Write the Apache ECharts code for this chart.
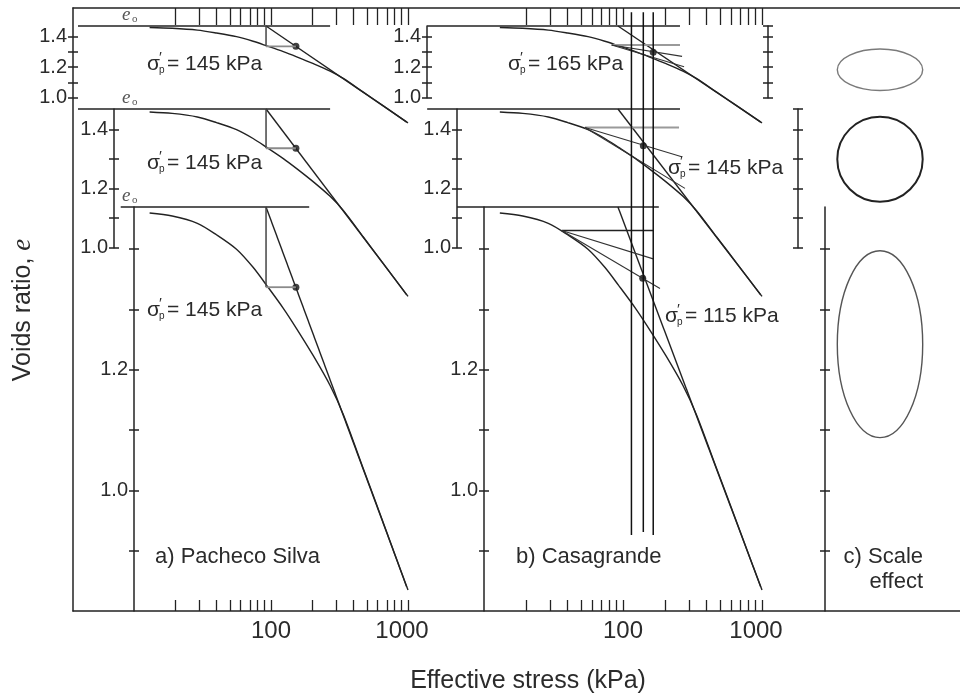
<!DOCTYPE html>
<html><head><meta charset="utf-8">
<script src="https://cdn.jsdelivr.net/npm/echarts@6/dist/echarts.min.js"></script>
<style>html,body{margin:0;padding:0;background:#fff}#c{width:960px;height:697px}</style>
</head><body><div id="c"></div>
<script>
// ---------------- data ----------------
// compression curve (same test drawn at three vertical scales)
const stressKPa  = [13, 19, 29, 40, 56, 74, 93, 123, 154, 204, 270, 337, 472, 661, 978];
const voidsRatio = [1.460, 1.455, 1.443, 1.424, 1.400, 1.370, 1.340, 1.302, 1.268, 1.223, 1.174, 1.126, 1.036, 0.946, 0.840];
const initialE = 1.47;

// axis ticks / labels
const stressTickValues = [20, 30, 40, 50, 60, 70, 80, 90, 100, 200, 300, 400, 500, 600, 700, 800, 900, 1000];
const stressTickLabels = [100, 1000];
const eTicksSmall  = [1.0, 1.1, 1.2, 1.3, 1.4];
const eLabelsSmall = [1.0, 1.2, 1.4];
const eTicksLarge  = [0.9, 1.0, 1.1, 1.2, 1.3, 1.4];
const eLabelsLarge = [1.0, 1.2];
const scaleBarTicks = [1.0, 1.1, 1.2, 1.3, 1.4, 1.47];

// a) Pacheco Silva construction
const psLineStress = [92, 1000];
const psLineE      = [1.47, 0.835];
const psCurveE     = 1.337;
const psSigmaP     = 152;
const psLabels     = [145, 145, 145];
const psE0From     = [3.9, 3.9, 8.0];
const psE0To       = [270, 270, 190];

// b) Casagrande construction (one per vertical scale)
const csE0From    = [3.9, 3.9, 6.4];
const csE0To      = [257, 257, 181];
const csTStress   = [82.9, 53.3, 36.2];
const csTE        = [1.345, 1.407, 1.431];
const csHorizTo   = [257, 253, 165];
const csBisStress = [266, 264.5, 165];
const csBisE      = [1.271, 1.308, 1.384];
const csTanStress = [275, 279, 184.5];
const csTanE      = [1.203, 1.201, 1.335];
const csDotStress = [165, 140, 138.6];
const csDotE      = [1.2975, 1.3456, 1.3518];
const csLabels    = [165, 145, 115];
const csVerticalStress  = [115, 140, 165];
const csVerticalTopE    = 1.793;
const csVerticalBottomE = [0.926, 0.931, 0.926];

// c) scale effect: one circle seen at the three vertical scales
const ellipseCentreE = [1.183, 1.300, 1.2425];
const ellipseRadiusE = [0.136, 0.144, 0.155];
const ellipseCentreX = 6.0;
const ellipseRadiusX = 2.135;

// ---------------- layout / styles ----------------
const FONT = "'Liberation Sans', Arial, Helvetica, sans-serif";
const SERIF = "'Liberation Serif', 'Times New Roman', serif";
const INK = '#222';
const TXT = '#2b2b2b';
const axLine = {color: INK, width: 1.5};

const rows = [
  {top: 26,  height: 71.675, min: 1.0, max: 1.47, ticks: eTicksSmall, labels: eLabelsSmall},
  {top: 109, height: 138.65, min: 1.0, max: 1.47, ticks: eTicksSmall, labels: eLabelsSmall},
  {top: 207, height: 404,    min: 0.8, max: 1.47, ticks: eTicksLarge, labels: eLabelsLarge}
];
const panelA = {left: 65.5,  width: 376.75, axisX: [73, 114, 134], showLine: [false, true, true]};
const panelB = {left: 414.5, width: 382.25, axisX: [427, 457, 484], showLine: [true, true, true]};
const panelC = {left: 760,   width: 200,    axisX: [768, 798, 825], showLine: [true, true, true]};

const grid = [], xAxis = [], yAxis = [], series = [];

// outer frame
grid.push({left: 73, top: 8, right: 0, bottom: 86});
const frameAxis = {gridIndex: 0, type: 'value', min: 0, max: 1, axisLine: {show: true, onZero: false, lineStyle: axLine},
  axisTick: {show: false}, axisLabel: {show: false}, splitLine: {show: false}};
xAxis.push(Object.assign({}, frameAxis, {position: 'bottom'}));
xAxis.push(Object.assign({}, frameAxis, {position: 'top'}));
yAxis.push(Object.assign({}, frameAxis, {position: 'left'}));

function makeCell(panel, r, kind, ticks, labels) {
  const row = rows[r];
  const gi = grid.push({left: panel.left, top: row.top, width: panel.width, height: row.height}) - 1;
  let xa;
  if (kind === 'log') {
    xa = {gridIndex: gi, type: 'log', logBase: 10, min: Math.pow(10, 0.5), max: Math.pow(10, 3.25),
      splitLine: {show: false}, axisLine: {show: false, onZero: false}};
    if (r === 0) {
      Object.assign(xa, {position: 'top', offset: row.top - 8,
        axisTick: {show: true, inside: true, length: 17, customValues: stressTickValues, lineStyle: {color: INK, width: 1.3}},
        axisLabel: {show: false}});
    } else if (r === 2) {
      Object.assign(xa, {position: 'bottom',
        axisTick: {show: true, inside: true, length: 11, customValues: stressTickValues, lineStyle: {color: INK, width: 1.3}},
        axisLabel: {show: true, customValues: stressTickLabels, margin: 8, fontSize: 24, fontFamily: FONT, color: TXT,
          formatter: v => (Math.round(v) === 1000 ? '{s|1000}' : String(Math.round(v))),
          rich: {s: {fontSize: 24, fontFamily: FONT, color: TXT, padding: [0, 12, 0, 0]}}}});
    } else {
      xa.show = false;
    }
  } else {
    xa = {gridIndex: gi, type: 'value', min: 0, max: 10, show: false, axisLine: {onZero: false}};
  }
  const xi = xAxis.push(xa) - 1;
  const offset = panel.left - panel.axisX[r];
  const common = {gridIndex: gi, type: 'value', min: row.min, max: row.max, position: 'left', offset, splitLine: {show: false}};
  const yi = yAxis.push(Object.assign({}, common, {
    axisLine: {show: panel.showLine[r], onZero: false, lineStyle: axLine},
    axisTick: {show: true, inside: false, length: 5, customValues: ticks, lineStyle: axLine},
    axisLabel: labels ? {show: true, customValues: labels, margin: 6, fontSize: 20, fontFamily: FONT, color: TXT,
      formatter: v => Number(v).toFixed(1)} : {show: false}
  })) - 1;
  yAxis.push(Object.assign({}, common, {
    axisLine: {show: false, onZero: false},
    axisTick: {show: true, inside: true, length: 5, customValues: ticks, lineStyle: axLine},
    axisLabel: {show: false}
  }));
  return {xi, yi};
}

function line(c, data, style, extra) {
  series.push(Object.assign({type: 'line', xAxisIndex: c.xi, yAxisIndex: c.yi, data, symbol: 'none', clip: false,
    silent: true, animation: false, lineStyle: Object.assign({color: INK, width: 1.3}, style || {})}, extra || {}));
}
function dot(c, pt) {
  series.push({type: 'scatter', xAxisIndex: c.xi, yAxisIndex: c.yi, data: [pt], symbolSize: 7, clip: false,
    silent: true, itemStyle: {color: '#111'}});
}

const curve = stressKPa.map((s, i) => [s, voidsRatio[i]]);
const virgin = [[psLineStress[0], psLineE[0]], [psLineStress[1], psLineE[1]]];

// panel a
for (let r = 0; r < 3; r++) {
  const c = makeCell(panelA, r, 'log', rows[r].ticks, rows[r].labels);
  line(c, curve, {width: 1.4}, {smooth: 0.3});
  line(c, [[psE0From[r], initialE], [psE0To[r], initialE]], {width: 1.5});
  line(c, virgin, {width: 1.4});
  line(c, [[psLineStress[0], initialE], [psLineStress[0], psCurveE]], {color: '#444', width: 1.5});
  line(c, [[psLineStress[0], psCurveE], [psSigmaP, psCurveE]], {color: '#8a8a8a', width: 1.8});
  dot(c, [psSigmaP, psCurveE]);
}
// panel b
for (let r = 0; r < 3; r++) {
  const c = makeCell(panelB, r, 'log', rows[r].ticks, rows[r].labels);
  line(c, curve, {width: 1.4}, {smooth: 0.3});
  line(c, [[csE0From[r], initialE], [csE0To[r], initialE]], {width: 1.5});
  line(c, virgin, {width: 1.4});
  line(c, [[csTStress[r], csTE[r]], [csHorizTo[r], csTE[r]]], r < 2 ? {color: '#9a9a9a', width: 2} : {width: 1.5});
  line(c, [[csTStress[r], csTE[r]], [csBisStress[r], csBisE[r]]], {color: '#333', width: 1.1});
  line(c, [[csTStress[r], csTE[r]], [csTanStress[r], csTanE[r]]], {color: '#333', width: 1.1});
  dot(c, [csDotStress[r], csDotE[r]]);
  if (r === 2) {
    csVerticalStress.forEach((s, k) => line(c, [[s, csVerticalTopE], [s, csVerticalBottomE[k]]], {color: '#111', width: 1.5}));
  }
}
// panel c
const ellipseStyles = [{stroke: '#7a7a7a', lineWidth: 1.4}, {stroke: '#222', lineWidth: 2}, {stroke: '#555', lineWidth: 1.4}];
for (let r = 0; r < 3; r++) {
  const c = makeCell(panelC, r, 'value', r < 2 ? scaleBarTicks : eTicksLarge, null);
  const st = ellipseStyles[r];
  series.push({type: 'custom', xAxisIndex: c.xi, yAxisIndex: c.yi, clip: false, silent: true,
    data: [[ellipseCentreX, ellipseCentreE[r], ellipseRadiusX, ellipseRadiusE[r]]],
    renderItem: (p, api) => {
      const ctr = api.coord([api.value(0), api.value(1)]);
      const sz = api.size([api.value(2), api.value(3)]);
      return {type: 'ellipse', shape: {cx: ctr[0], cy: ctr[1], rx: sz[0], ry: sz[1]},
        style: {fill: 'none', stroke: st.stroke, lineWidth: st.lineWidth}};
    }});
}

// ---------------- texts ----------------
function T(x, y, text, size, o) {
  o = o || {};
  const al = o.align || 'left';
  return {type: 'text', x, y, silent: true, style: {text, font: (o.italic ? 'italic ' : '') + size + 'px ' + (o.font || FONT),
    fill: o.fill || TXT, align: al, textAlign: al, verticalAlign: 'middle', textVerticalAlign: 'middle'}};
}
function sigmaLabel(x, y, v) {
  return {type: 'group', x, y, children: [
    T(0, 0, 'σ', 21), T(12, -6, '′', 15), T(12, 6, 'p', 10), T(20, 0, '= ' + v + ' kPa', 21)
  ]};
}
const graphics = [];
[[147, 64], [147, 163], [147, 310]].forEach((p, i) => graphics.push(sigmaLabel(p[0], p[1], psLabels[i])));
[[508, 64], [668, 168], [665, 316]].forEach((p, i) => graphics.push(sigmaLabel(p[0], p[1], csLabels[i])));
[15, 98, 196].forEach(y => {
  graphics.push(T(122, y, 'e', 19, {italic: true, font: SERIF, fill: '#555'}));
  graphics.push(T(132, y + 4, 'o', 11, {font: SERIF, fill: '#555'}));
});
graphics.push(T(155, 557, 'a) Pacheco Silva', 22));
graphics.push(T(516, 557, 'b) Casagrande', 22));
graphics.push(T(923, 557, 'c) Scale', 22, {align: 'right'}));
graphics.push(T(923, 582, 'effect', 22, {align: 'right'}));
graphics.push(T(528, 681, 'Effective stress (kPa)', 25, {align: 'center'}));
graphics.push({type: 'text', x: 23, y: 310, rotation: Math.PI / 2, silent: true, style: {
  text: '{n|Voids ratio, }{i|e}', align: 'center', textAlign: 'center', verticalAlign: 'middle', textVerticalAlign: 'middle',
  rich: {n: {fontSize: 25, fontFamily: FONT, fill: TXT, color: TXT},
         i: {fontSize: 27, fontFamily: SERIF, fontStyle: 'italic', fill: TXT, color: TXT}}}});

const chart = echarts.init(document.getElementById('c'), null, {renderer: 'canvas'});
chart.setOption({animation: false, backgroundColor: '#fff', grid, xAxis, yAxis, series, graphic: graphics});
</script></body></html>
